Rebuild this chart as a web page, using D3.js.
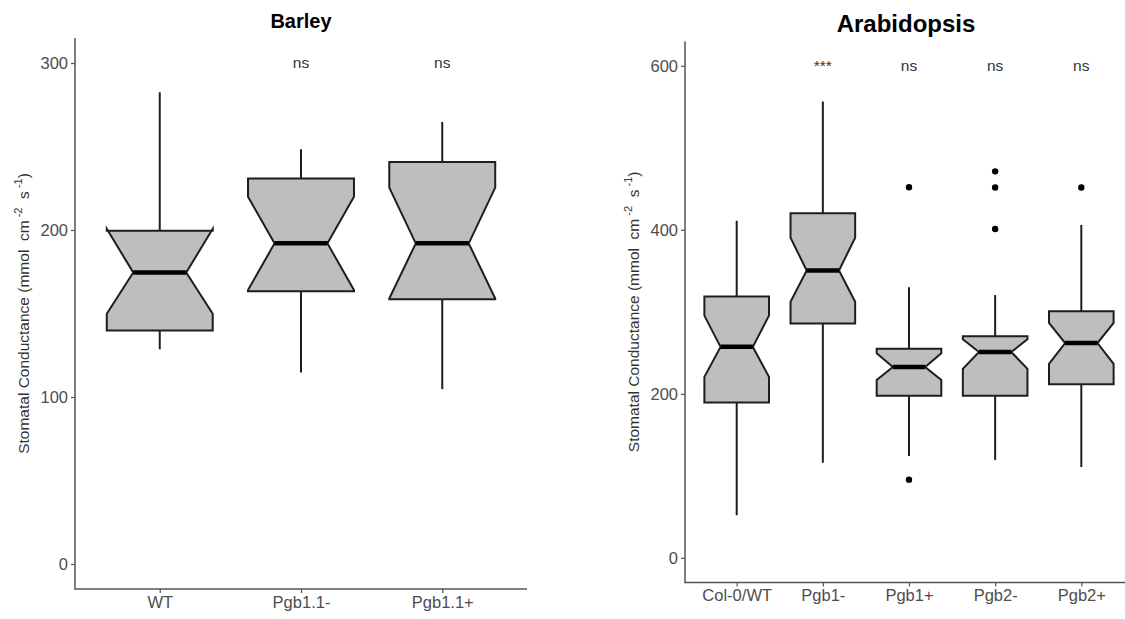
<!DOCTYPE html>
<html>
<head>
<meta charset="utf-8">
<script src="https://cdn.jsdelivr.net/npm/d3@7"></script>
<style>
  html, body { margin: 0; padding: 0; background: #fff; }
  svg { display: block; font-family: "Liberation Sans", Arial, sans-serif; }
</style>
</head>
<body>
<svg id="chart" width="1125" height="619"></svg>
<script>
// ---------- Barley data ----------
const barleyCategories = ["WT", "Pgb1.1-", "Pgb1.1+"];
const barleyWhiskerLow  = [128.6, 114.7, 104.7];
const barleyLower       = [139.8, 163.3, 158.5];
const barleyNotchLower  = [149.8, 164.0, 159.0];
const barleyMedian      = [174.5, 192.0, 192.0];
const barleyNotchUpper  = [200.7, 220.0, 225.4];
const barleyUpper       = [199.5, 230.8, 240.8];
const barleyWhiskerHigh = [282.5, 248.3, 264.7];
const barleyOutliers    = [[], [], []];
const barleySignif      = ["", "ns", "ns"];
const barleyTicks       = [0, 100, 200, 300];

// ---------- Arabidopsis data ----------
const arabCategories = ["Col-0/WT", "Pgb1-", "Pgb1+", "Pgb2-", "Pgb2+"];
const arabWhiskerLow  = [52.0, 116.1, 124.3, 119.5, 110.8];
const arabLower       = [189.4, 285.8, 197.6, 197.6, 211.8];
const arabNotchLower  = [220.7, 312.3, 216.9, 230.4, 236.5];
const arabMedian      = [257.3, 350.4, 232.8, 251.0, 262.0];
const arabNotchUpper  = [295.4, 390.4, 249.6, 266.5, 286.5];
const arabUpper       = [318.6, 420.2, 255.0, 270.4, 300.8];
const arabWhiskerHigh = [411.0, 556.6, 330.0, 320.5, 405.8];
const arabOutliers    = [[], [], [452.0, 95.4], [471.3, 451.6, 401.0], [451.6]];
const arabSignif      = ["", "***", "ns", "ns", "ns"];
const arabTicks       = [0, 200, 400, 600];

const svg = d3.select("#chart");

function buildRows(cats, wl, lo, nl, med, nu, up, wh, outl, sig) {
  return cats.map((c, i) => ({
    cat: c, wlow: wl[i], lower: lo[i], nlow: nl[i], median: med[i],
    nup: nu[i], upper: up[i], whigh: wh[i], outliers: outl[i], sig: sig[i]
  }));
}

function drawPanel(opts) {
  const { rows, categories, ticks, domain, xRange, yRange, title, titleX, titleY, titleSize, ylabX, sigValue } = opts;
  const g = svg.append("g");
  const x = d3.scalePoint().domain(categories).range(xRange).padding(0.6);
  const y = d3.scaleLinear().domain(domain).range(yRange);
  const step = x.step();
  const bw = step * 0.75;
  const indent = bw / 4;

  const clipId = "clip" + title;
  svg.append("clipPath").attr("id", clipId).append("rect")
    .attr("x", xRange[0]).attr("y", yRange[1])
    .attr("width", xRange[1] - xRange[0]).attr("height", yRange[0] - yRange[1]);
  const plot = g.append("g").attr("clip-path", `url(#${clipId})`);

  const stroke = "#1e1e1e";
  const sw = 2;
  rows.forEach(r => {
    const cx = x(r.cat);
    const x0 = cx - bw / 2, x1 = cx + bw / 2;
    // whiskers
    plot.append("line").attr("x1", cx).attr("x2", cx)
      .attr("y1", y(r.upper)).attr("y2", y(r.whigh))
      .attr("stroke", stroke).attr("stroke-width", sw);
    plot.append("line").attr("x1", cx).attr("x2", cx)
      .attr("y1", y(r.lower)).attr("y2", y(r.wlow))
      .attr("stroke", stroke).attr("stroke-width", sw);
    // notched box
    const pts = [
      [x0, y(r.upper)], [x0, y(r.nup)], [x0 + indent, y(r.median)], [x0, y(r.nlow)], [x0, y(r.lower)],
      [x1, y(r.lower)], [x1, y(r.nlow)], [x1 - indent, y(r.median)], [x1, y(r.nup)], [x1, y(r.upper)]
    ];
    plot.append("path").attr("d", d3.line()(pts) + "Z")
      .attr("fill", "#bebebe").attr("stroke", stroke).attr("stroke-width", sw)
      .attr("stroke-linejoin", "miter");
    // median
    plot.append("line").attr("x1", x0 + indent).attr("x2", x1 - indent)
      .attr("y1", y(r.median)).attr("y2", y(r.median))
      .attr("stroke", "#000").attr("stroke-width", 4.5);
    // outliers
    r.outliers.forEach(o => {
      plot.append("circle").attr("cx", cx).attr("cy", y(o)).attr("r", 3.2)
        .attr("fill", "#000");
    });
    // significance label
    if (r.sig) {
      plot.append("text").attr("x", cx).attr("y", y(sigValue))
        .attr("dy", "0.35em").attr("text-anchor", "middle")
        .attr("font-size", 15.5).attr("fill", "#333").text(r.sig);
    }
  });

  // axes
  const axisColor = "#555";
  const yAxis = g.append("g").attr("transform", `translate(${xRange[0]},0)`)
    .call(d3.axisLeft(y).tickValues(ticks).tickSize(4).tickPadding(3));
  const xAxis = g.append("g").attr("transform", `translate(0,${yRange[0]})`)
    .call(d3.axisBottom(x).tickSize(4).tickPadding(3));
  [yAxis, xAxis].forEach(a => {
    a.select(".domain").remove();
    a.selectAll(".tick line").attr("stroke", axisColor).attr("stroke-width", 1.2);
    a.selectAll(".tick text").attr("fill", "#4d4d4d").attr("font-size", 16.5)
      .attr("font-family", "Liberation Sans, Arial, sans-serif");
  });
  g.append("line").attr("x1", xRange[0]).attr("x2", xRange[0])
    .attr("y1", yRange[1]).attr("y2", yRange[0] + 0.7)
    .attr("stroke", axisColor).attr("stroke-width", 1.5);
  g.append("line").attr("x1", xRange[0]).attr("x2", Math.min(xRange[1], 1125))
    .attr("y1", yRange[0]).attr("y2", yRange[0])
    .attr("stroke", axisColor).attr("stroke-width", 1.5);

  // title
  g.append("text").attr("x", titleX).attr("y", titleY).attr("text-anchor", "middle")
    .attr("font-weight", "bold").attr("font-size", titleSize).attr("fill", "#000").text(title);

  // y label
  const cy = (yRange[0] + yRange[1]) / 2;
  const lab = g.append("text").attr("transform", `translate(${ylabX},${cy}) rotate(-90)`)
    .attr("text-anchor", "middle").attr("font-size", 15.5).attr("fill", "#333");
  lab.append("tspan").text("Stomatal Conductance (mmol\u00a0\u00a0cm");
  lab.append("tspan").attr("font-size", 11).attr("dy", -7).text("\u00a0-2");
  lab.append("tspan").attr("dy", 7).text("\u00a0\u00a0s");
  lab.append("tspan").attr("font-size", 11).attr("dy", -7).text("\u00a0-1");
  lab.append("tspan").attr("dy", 7).text(")");
}

drawPanel({
  rows: buildRows(barleyCategories, barleyWhiskerLow, barleyLower, barleyNotchLower, barleyMedian,
                  barleyNotchUpper, barleyUpper, barleyWhiskerHigh, barleyOutliers, barleySignif),
  categories: barleyCategories, ticks: barleyTicks, domain: [-15, 315],
  xRange: [75, 527], yRange: [589, 38],
  title: "Barley", titleX: 301, titleY: 28, titleSize: 20, ylabX: 29, sigValue: 300
});

drawPanel({
  rows: buildRows(arabCategories, arabWhiskerLow, arabLower, arabNotchLower, arabMedian,
                  arabNotchUpper, arabUpper, arabWhiskerHigh, arabOutliers, arabSignif),
  categories: arabCategories, ticks: arabTicks, domain: [-30, 630],
  xRange: [685, 1133], yRange: [582.5, 41.2],
  title: "Arabidopsis", titleX: 906, titleY: 32, titleSize: 24, ylabX: 639, sigValue: 600
});
</script>
</body>
</html>
